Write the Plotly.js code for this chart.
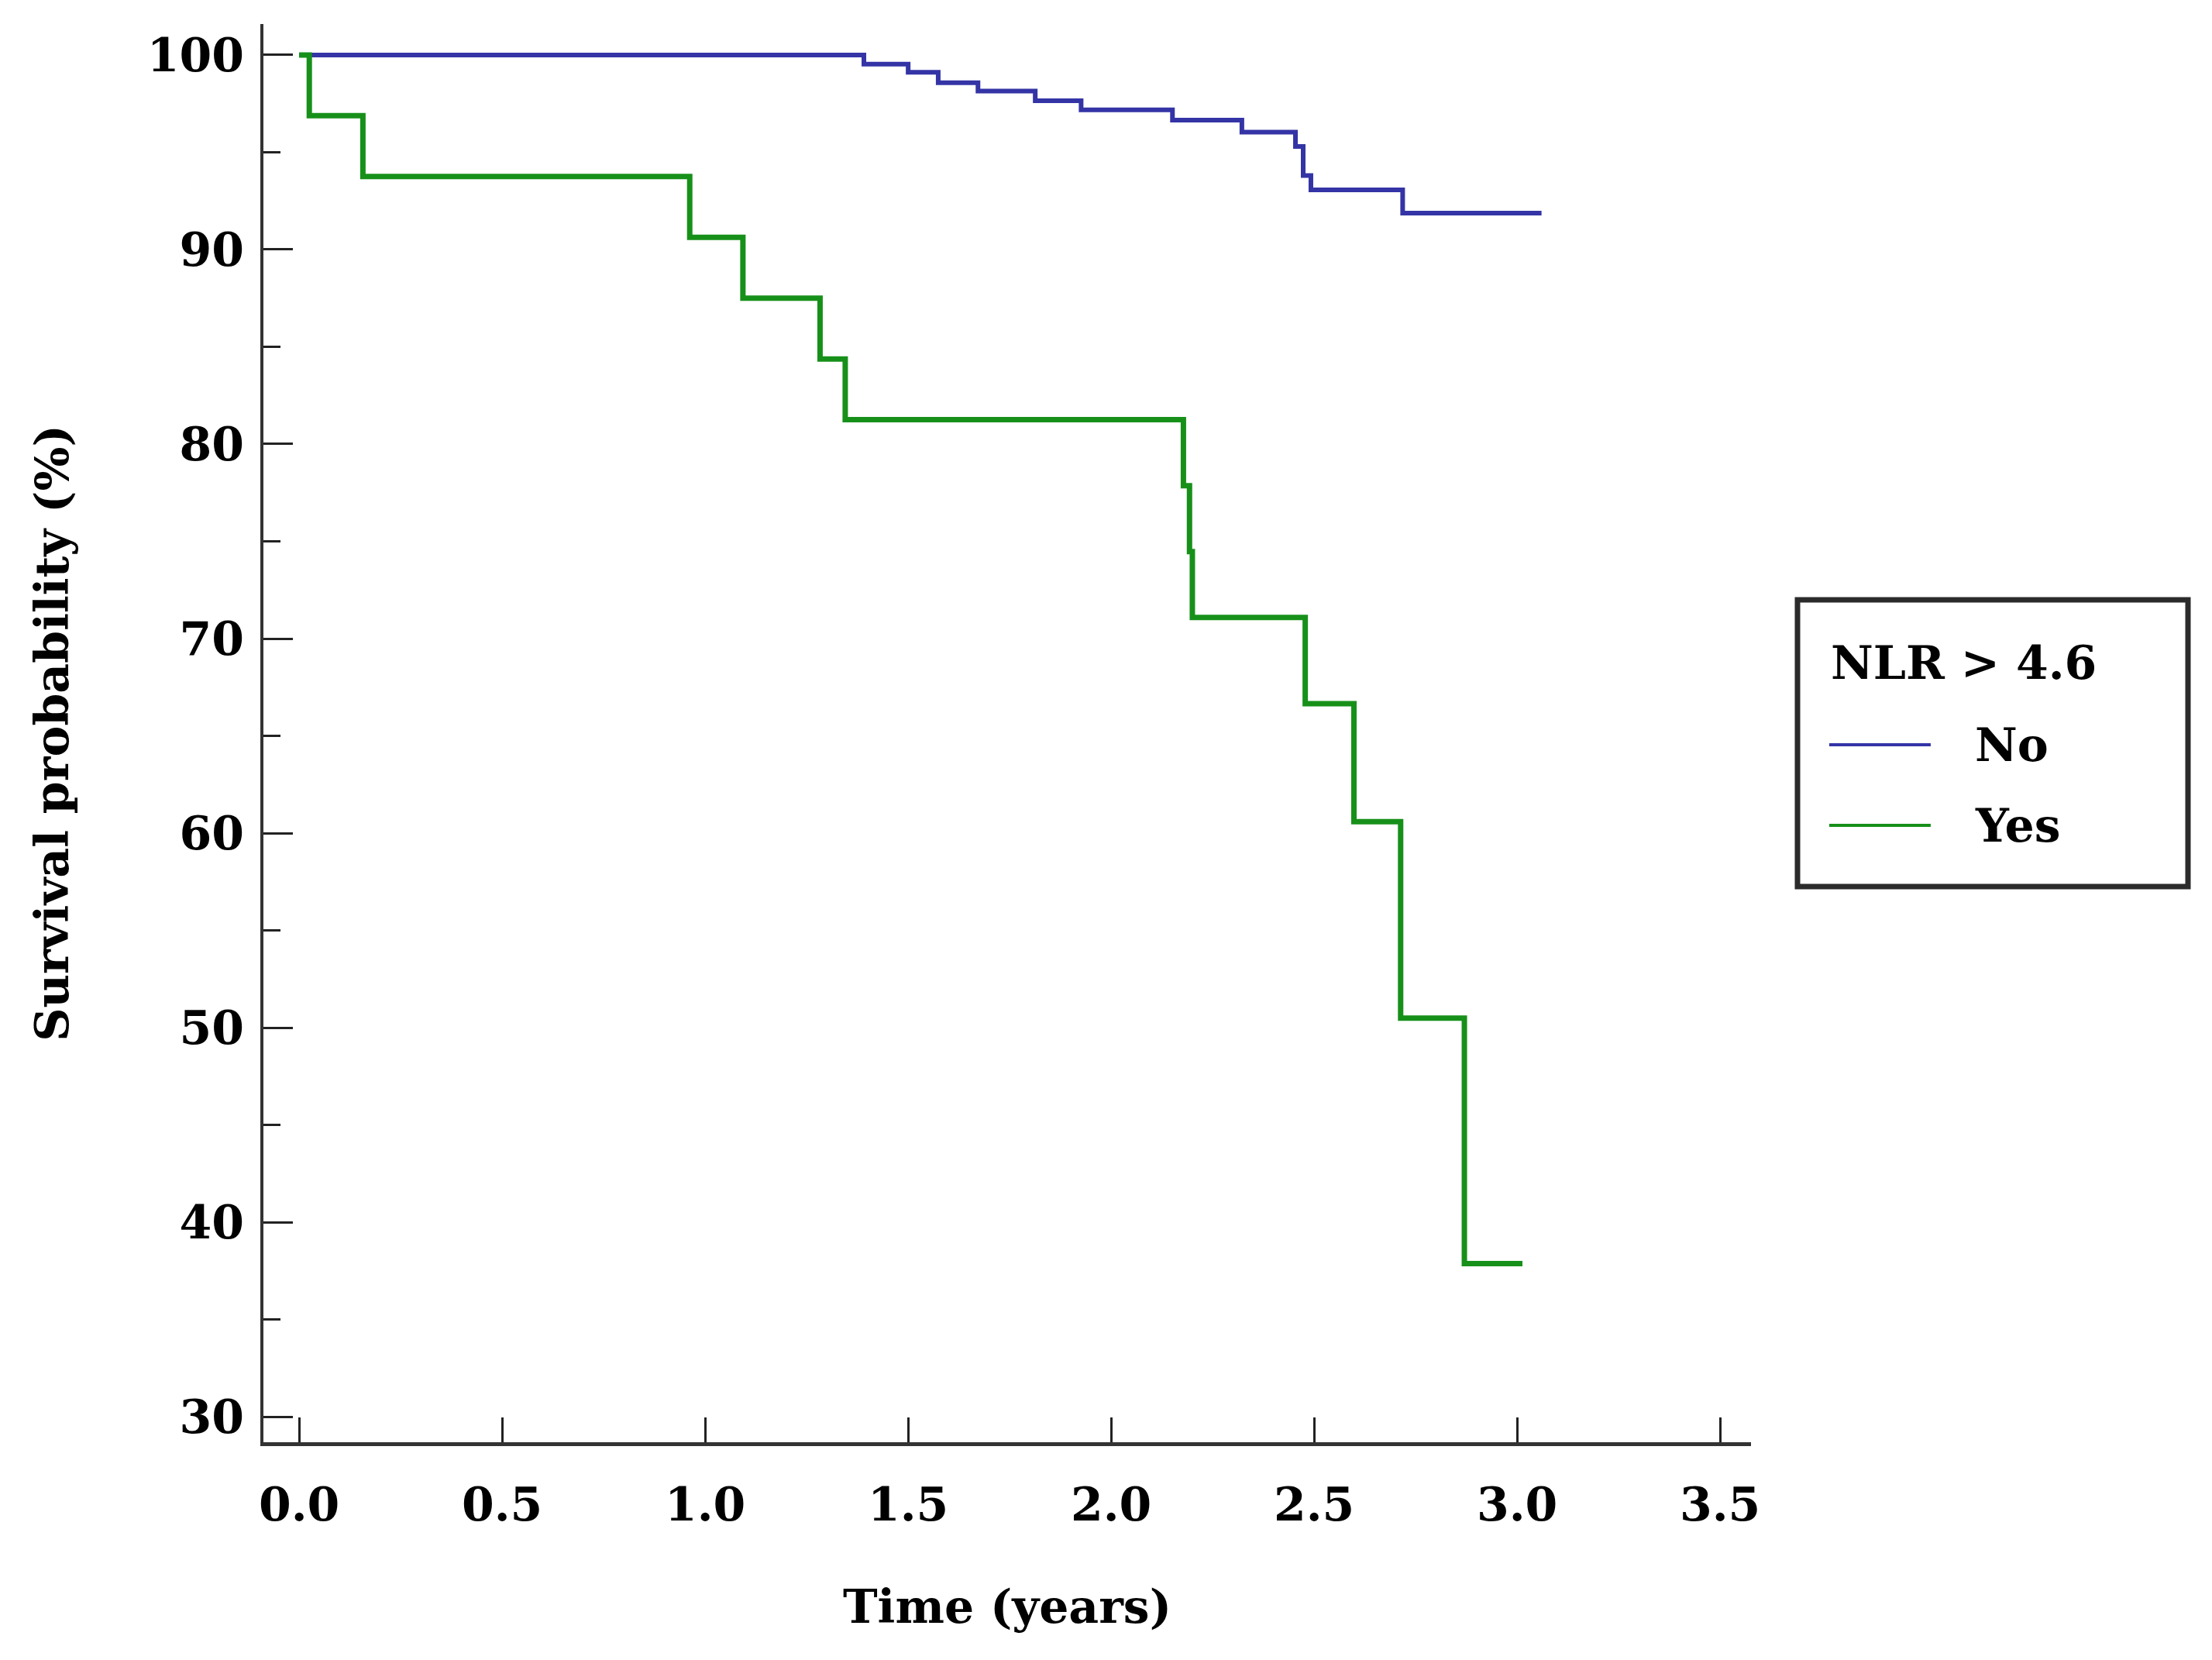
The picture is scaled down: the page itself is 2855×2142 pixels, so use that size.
<!DOCTYPE html>
<html>
<head>
<meta charset="utf-8">
<script src="https://cdn.plot.ly/plotly-3.0.1.min.js"></script>
<style>
  html, body { margin: 0; padding: 0; background: #fff; }
  #chart { width: 2855px; height: 2142px; }
</style>
</head>
<body>
<div id="chart"></div>
<script>
// Kaplan-Meier steps (time in years, survival in %)
const noTime  = [0, 1.391, 1.500, 1.574, 1.672, 1.813, 1.926, 2.151, 2.322, 2.454, 2.473, 2.492, 2.718, 3.060];
const noSurv  = [100, 99.53, 99.11, 98.57, 98.14, 97.65, 97.18, 96.65, 96.03, 95.30, 93.80, 93.07, 91.87, 91.87];

const yesTime = [0, 0.025, 0.157, 0.962, 1.093, 1.283, 1.345, 2.178, 2.193, 2.200, 2.478, 2.598, 2.713, 2.870, 3.013];
const yesSurv = [100, 96.875, 93.75, 90.625, 87.5, 84.375, 81.25, 77.86, 74.47, 71.09, 66.65, 60.59, 50.49, 37.87, 37.87];

const groupNames = ['No', 'Yes'];
const legendTitle = 'NLR > 4.6';
const xTicks = [0, 0.5, 1.0, 1.5, 2.0, 2.5, 3.0, 3.5];
const yTicks = [30, 40, 50, 60, 70, 80, 90, 100];

const blue = '#3434a6';
const green = '#17901a';
const fam = 'DejaVu Serif';
const txt = { family: fam, size: 60, color: '#000', weight: 'bold' };

var traces = [
  {
    type: 'scatter', mode: 'lines', name: groupNames[0],
    x: noTime, y: noSurv,
    line: { shape: 'hv', color: blue, width: 6 },
    hoverinfo: 'skip'
  },
  {
    type: 'scatter', mode: 'lines', name: groupNames[1],
    x: yesTime, y: yesSurv,
    line: { shape: 'hv', color: green, width: 7 },
    hoverinfo: 'skip'
  }
];

// hand-made legend box (plotly's own legend swatches are too short)
var lx0 = 1.0526, lx1 = 1.1208, ltx = 1.1495;
var rowY = [0.4918, 0.435];
var shapes = [
  { type: 'rect', xref: 'paper', yref: 'paper', x0: 1.03125, x1: 1.29375, y0: 0.3918, y1: 0.594,
    line: { color: '#2b2b2b', width: 7 }, fillcolor: 'rgba(0,0,0,0)' },
  { type: 'line', xref: 'paper', yref: 'paper', x0: lx0, x1: lx1, y0: rowY[0], y1: rowY[0],
    line: { color: blue, width: 4 } },
  { type: 'line', xref: 'paper', yref: 'paper', x0: lx0, x1: lx1, y0: rowY[1], y1: rowY[1],
    line: { color: green, width: 4 } }
];
var annotations = [
  { xref: 'paper', yref: 'paper', x: lx0, y: 0.5497, xanchor: 'left', yanchor: 'middle',
    text: legendTitle.replace('>', '&gt;'), showarrow: false, font: txt },
  { xref: 'paper', yref: 'paper', x: ltx, y: rowY[0], xanchor: 'left', yanchor: 'middle',
    text: groupNames[0], showarrow: false, font: txt },
  { xref: 'paper', yref: 'paper', x: ltx, y: rowY[1], xanchor: 'left', yanchor: 'middle',
    text: groupNames[1], showarrow: false, font: txt }
];

var layout = {
  width: 2855,
  height: 2142,
  margin: { l: 340, r: 595, t: 31, b: 281, pad: 0 },
  paper_bgcolor: '#fff',
  plot_bgcolor: '#fff',
  font: txt,
  showlegend: false,
  xaxis: {
    range: [-0.088, 3.576],
    tickvals: xTicks,
    tickformat: '.1f',
    ticks: 'inside', ticklen: 32, tickwidth: 3, tickcolor: '#222',
    showline: true, linecolor: '#333', linewidth: 5,
    showgrid: false, zeroline: false,
    tickfont: txt,
    ticklabelstandoff: 24,
    title: { text: 'Time (years)', font: txt, standoff: 78 }
  },
  yaxis: {
    range: [28.69, 101.59],
    tickvals: yTicks,
    ticks: 'inside', ticklen: 38, tickwidth: 3, tickcolor: '#222',
    minor: { dtick: 5, tick0: 0, ticks: 'inside', ticklen: 22, tickwidth: 3, tickcolor: '#222', showgrid: false },
    showline: true, linecolor: '#333', linewidth: 4,
    showgrid: false, zeroline: false,
    tickfont: txt,
    ticklabelstandoff: 9,
    title: { text: 'Survival probability (%)', font: txt, standoff: 83 }
  },
  shapes: shapes,
  annotations: annotations
};

Plotly.newPlot('chart', traces, layout, { displayModeBar: false, staticPlot: true });
</script>
</body>
</html>
